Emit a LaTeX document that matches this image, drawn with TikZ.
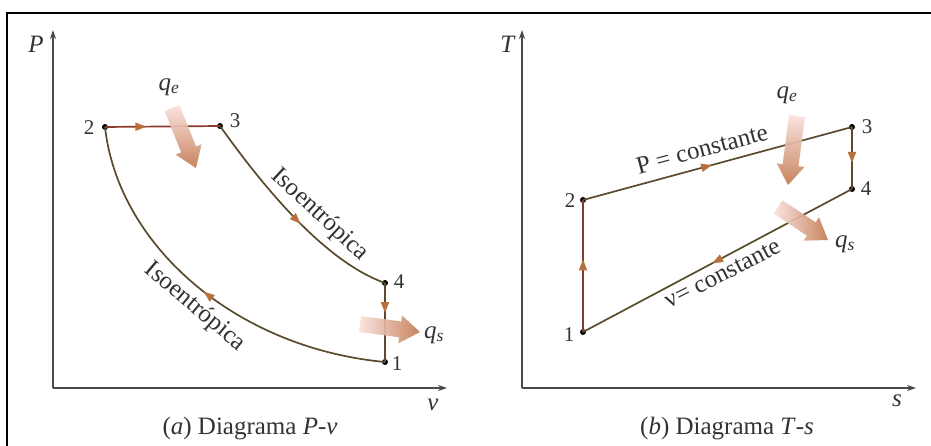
\documentclass[tikz,border=0pt]{standalone}
\usepackage{fontspec}
\setmainfont{Liberation Serif}
\usetikzlibrary{arrows.meta,decorations.markings,calc}
\definecolor{axisc}{HTML}{4A4A4A}
\definecolor{curvec}{HTML}{5A4A2E}
\definecolor{redc}{HTML}{8C3A2C}
\definecolor{tipc}{HTML}{B8703C}
\definecolor{heatA}{HTML}{FBE2DE}
\definecolor{heatB}{HTML}{EFA49A}
\definecolor{heatC}{HTML}{C27A52}
\definecolor{txtc}{HTML}{333333}
\newcommand\heatarr[3]{%
  \coordinate (hb) at ($(#2)!20pt!(#1)$);
  \shade[#3,opacity=0.92]
    ($(#1)!8pt!90:(#2)$) -- ($(hb)!8pt!90:(#2)$) -- ($(hb)!14pt!90:(#2)$) --
    (#2) -- ($(hb)!14pt!-90:(#2)$) -- ($(hb)!8pt!-90:(#2)$) --
    ($(#1)!8pt!-90:(#2)$) -- cycle;}
\begin{document}
\begin{tikzpicture}[x=1pt,y=-1pt,
  dot/.style={circle,fill=black,inner sep=0pt,minimum size=6pt},
  num/.style={font=\fontsize{21}{21}\selectfont,text=txtc,inner sep=1pt},
  lab/.style={font=\fontsize{25}{25}\selectfont,text=txtc,inner sep=1pt},
  axisline/.style={draw=axisc,line width=1.4pt,-{Stealth[length=9pt,width=6pt]}},
  proc/.style={draw=curvec,line width=1.7pt},
  midarrow/.style={postaction={decorate},decoration={markings,mark=at position #1 with {\arrow{Triangle[length=11pt,width=8pt,color=tipc]}}}},
  heatv/.style={top color=heatA,middle color=heatB,bottom color=heatC},
  heath/.style={left color=heatA,middle color=heatB,right color=heatC},
]
\useasboundingbox (0,0) rectangle (931,446);
\fill[white] (0,0) rectangle (931,446);
\draw[line width=2pt] (7,446) -- (7,13) -- (931,13);

% ---------- (a) P-v ----------
\coordinate (Ao) at (53,388);
\coordinate (Ay) at (53,30);
\coordinate (Ax) at (447,388);
\draw[axisline] (Ao) -- (Ay);
\draw[axisline] (Ao) -- (Ax);
\node[lab] (aP) at (36,44) {\textit{P}};
\node[lab] (av) at (433,405) {\textit{v}};

\node[dot] (a2) at (105,127) {};
\node[dot] (a3) at (220,126) {};
\node[dot] (a4) at (385,283) {};
\node[dot] (a1) at (385,362) {};
\node[num] (n2) at (89,128) {2};
\node[num] (n3) at (235,121) {3};
\node[num] (n4) at (399,282) {4};
\node[num] (n1) at (397,364) {1};

\draw[draw=redc,line width=1.7pt,midarrow=0.36] (a2.center) -- (a3.center);
\draw[proc,midarrow=0.55] (a3.center) .. controls (255,175) and (320,260) .. (a4.center);
\draw[proc,midarrow=0.38] (a4.center) -- (a1.center);
\draw[proc,midarrow=0.5] (a1.center) .. controls (235,348) and (118,245) .. (a2.center);

\node[lab,rotate=-43] (iso1) at (320,215) {Isoentrópica};
\node[lab,rotate=-40] (iso2) at (195,307) {Isoentrópica};

\coordinate (qeAt) at (172,108);
\coordinate (qeAh) at (196,168);
\heatarr{qeAt}{qeAh}{heatv}
\coordinate (qsAt) at (360,324);
\coordinate (qsAh) at (420,332);
\heatarr{qsAt}{qsAh}{heath}
\node[lab] (qeA) at (169,87) {\textit{q}\textsubscript{\textit{e}}};
\node[lab] (qsA) at (434,335) {\textit{q}\textsubscript{\textit{s}}};

\node[lab] (capA) at (250,429) {(\textit{a}) Diagrama \textit{P}-\textit{v}};

% ---------- (b) T-s ----------
\coordinate (Bo) at (522,388);
\coordinate (By) at (522,30);
\coordinate (Bx) at (916,388);
\draw[axisline] (Bo) -- (By);
\draw[axisline] (Bo) -- (Bx);
\node[lab] (bT) at (508,44) {\textit{T}};
\node[lab] (bs) at (897,401) {\textit{s}};

\node[dot] (b1) at (583,332) {};
\node[dot] (b2) at (583,200) {};
\node[dot] (b3) at (852,127) {};
\node[dot] (b4) at (852,189) {};
\node[num] (m1) at (569,335) {1};
\node[num] (m2) at (570,201) {2};
\node[num] (m3) at (867,127) {3};
\node[num] (m4) at (866,189) {4};

\draw[draw=redc!70!curvec,line width=1.7pt,midarrow=0.55] (b1.center) -- (b2.center);
\draw[proc,midarrow=0.48] (b2.center) -- (b3.center);
\draw[proc,midarrow=0.58] (b3.center) -- (b4.center);
\draw[proc,midarrow=0.52] (b4.center) -- (b1.center);

\node[lab,rotate=15] (pc) at (702,149) {P = constante};
\node[lab,rotate=27] (vc) at (723,274) {ν= constante};

\coordinate (qeBt) at (797,116);
\coordinate (qeBh) at (788,185);
\heatarr{qeBt}{qeBh}{heatv}
\coordinate (qsBt) at (778,207);
\coordinate (qsBh) at (828,240);
\heatarr{qsBt}{qsBh}{heath}
\node[lab] (qeB) at (787,95) {\textit{q}\textsubscript{\textit{e}}};
\node[lab] (qsB) at (845,244) {\textit{q}\textsubscript{\textit{s}}};

\node[lab] (capB) at (727,429) {(\textit{b}) Diagrama \textit{T}-\textit{s}};
\end{tikzpicture}
\end{document}
